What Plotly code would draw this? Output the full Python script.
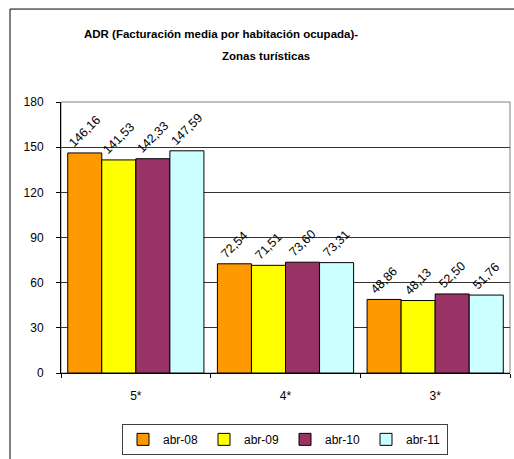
import plotly.graph_objects as go

categories = ["5*", "4*", "3*"]
series_names = ["abr-08", "abr-09", "abr-10", "abr-11"]
values = {
    "abr-08": [146.16, 72.54, 48.86],
    "abr-09": [141.53, 71.51, 48.13],
    "abr-10": [142.33, 73.60, 52.50],
    "abr-11": [147.59, 73.31, 51.76],
}
colors = ["#FF9900", "#FFFF00", "#993366", "#CCFFFF"]
y_ticks = [0, 30, 60, 90, 120, 150, 180]

FONT = "Liberation Sans, Arial, sans-serif"

fig = go.Figure()
for name, col in zip(series_names, colors):
    vals = values[name]
    fig.add_trace(go.Bar(
        name=name, x=categories, y=vals,
        marker=dict(color=col, line=dict(color="#000000", width=1)),
        text=[f"{v:.2f}".replace(".", ",") for v in vals],
        textposition="outside", textangle=-45, constraintext="none",
        cliponaxis=False,
        textfont=dict(family=FONT, size=12.5, color="#000000"),
    ))

W, H = 514, 459
L, R, T, B = 61, 4, 102, 80
pw = W - L - R
ph = H - T - B

def px_x(p):
    return (p - L) / pw

def px_y(p):
    return (H - B - p) / ph

fig.update_layout(
    width=W, height=H,
    margin=dict(l=L, r=R, t=T, b=B, pad=0),
    paper_bgcolor="#FFFFFF", plot_bgcolor="#FFFFFF",
    barmode="group", bargap=0.09, bargroupgap=0,
    font=dict(family=FONT, size=11, color="#000000"),
    showlegend=True,
    legend=dict(
        orientation="h", x=px_x(285), xanchor="center", y=px_y(431), yanchor="top",
        bordercolor="#404040", borderwidth=1, bgcolor="#FFFFFF",
        font=dict(family=FONT, size=12), itemwidth=30, tracegroupgap=0,
        entrywidth=36, entrywidthmode="pixels",
    ),
    xaxis=dict(
        type="category", showgrid=False, showline=True, linecolor="#000000", linewidth=1,
        ticks="outside", tickson="boundaries", ticklen=4, tickcolor="#000000",
        tickfont=dict(family=FONT, size=12), ticklabelstandoff=12,
    ),
    yaxis=dict(
        range=[0, 180], tickvals=y_ticks, ticktext=[str(v) for v in y_ticks],
        showgrid=True, gridcolor="#333333", gridwidth=1,
        showline=True, linecolor="#000000", linewidth=1,
        ticks="outside", ticklen=4, tickcolor="#000000",
        tickfont=dict(family=FONT, size=12), zeroline=False,
        ticklabelstandoff=10,
    ),
    shapes=[
        dict(type="rect", xref="paper", yref="paper", x0=0, x1=1, y0=0, y1=1,
             line=dict(color="#808080", width=1), layer="below"),
        dict(type="rect", xref="paper", yref="paper",
             x0=px_x(10), x1=px_x(560), y0=px_y(7), y1=px_y(520),
             line=dict(color="#000000", width=1), layer="below"),
    ],
    annotations=[
        dict(text="<b>ADR (Facturación media por habitación ocupada)-</b>",
             xref="paper", yref="paper", x=px_x(221), y=px_y(33),
             xanchor="center", yanchor="middle", showarrow=False,
             font=dict(family=FONT, size=11.5)),
        dict(text="<b>Zonas turísticas</b>",
             xref="paper", yref="paper", x=px_x(266), y=px_y(55),
             xanchor="center", yanchor="middle", showarrow=False,
             font=dict(family=FONT, size=11.5)),
    ],
)

fig.write_html("out.html", config={"displayModeBar": False},
               post_script="document.body.style.margin='0';document.body.style.overflow='hidden';")
